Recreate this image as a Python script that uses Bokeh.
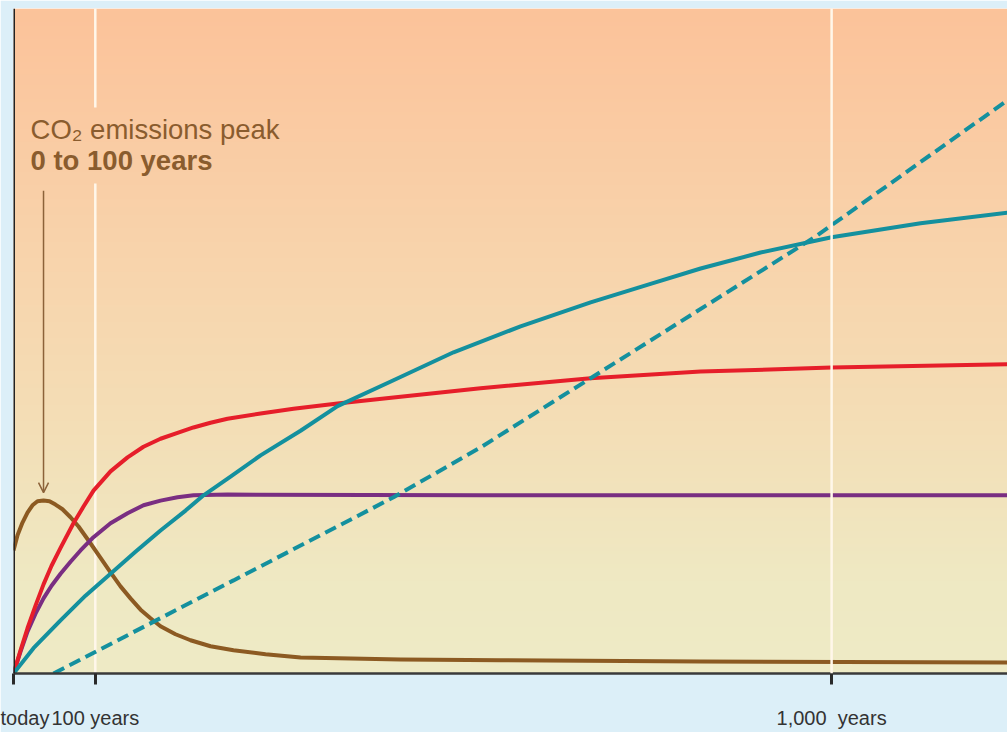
import numpy as np
from bokeh.plotting import figure
from bokeh.models import Range1d, FixedTicker, Span, Label, Arrow, OpenHead
from bokeh.embed import file_html
from bokeh.resources import INLINE

# ---- data (years after today, relative magnitude 0-100) ----
emis_x = [0, 4.9, 11.0, 17.1, 23.2, 29.3, 36.7, 44.0, 51.3, 59.9, 69.7, 79.5, 91.7, 106.4,
          118.6, 130.8, 143.0, 155.3, 167.5, 179.7, 198.0, 216.4, 240.8, 268.9, 308.1,
          350.9, 473.1, 595.4, 839.9, 1215]
emis_y = [18.5, 20.8, 22.7, 24.2, 25.3, 25.9, 26.0, 25.9, 25.4, 24.7, 23.5, 22.1, 20.0, 17.4,
          15.2, 13.1, 11.3, 9.6, 8.3, 7.1, 5.9, 5.0, 4.1, 3.5, 2.9,
          2.4, 2.1, 2.0, 1.8, 1.65]

red_x = [0, 8.6, 17.1, 26.9, 36.7, 46.5, 57.5, 73.3, 85.6, 97.8, 118.6, 139.4, 158.9, 179.7,
         200.5, 220.0, 240.8, 261.6, 302.0, 342.3, 396.1, 464.5, 570.9, 705.4, 839.9, 1000, 1215]
red_y = [0, 3.5, 6.8, 10.2, 13.4, 16.2, 18.9, 22.6, 25.1, 27.5, 30.4, 32.5, 34.1, 35.3,
         36.2, 37.0, 37.7, 38.3, 39.1, 39.8, 40.6, 41.5, 42.9, 44.4, 45.4, 46.0, 46.5]

purple_x = [0, 8.6, 17.1, 26.9, 36.7, 46.5, 57.5, 69.7, 81.9, 97.8, 118.6, 139.4, 158.9,
            179.7, 200.5, 220.0, 261.6, 570.9, 1215]
purple_y = [0, 3.3, 6.3, 9.0, 11.3, 13.2, 15.0, 16.8, 18.5, 20.5, 22.6, 24.1, 25.3,
            26.0, 26.5, 26.8, 26.9, 26.8, 26.8]

teal_x = [0, 24.4, 57.5, 88.0, 118.6, 149.1, 179.7, 210.3, 232.3, 265.3, 302.0, 350.9, 396.1,
          464.5, 537.9, 619.8, 705.4, 778.7, 839.9, 913.2, 1000, 1108.8, 1215]
teal_y = [0, 3.8, 8.0, 11.7, 15.0, 18.3, 21.5, 24.5, 26.8, 29.6, 32.8, 36.5, 40.2,
          44.1, 48.3, 52.2, 55.8, 58.6, 60.9, 63.3, 65.6, 67.7, 69.3]

dash_x = [48.9, 268.9, 464.5, 570.9, 705.4, 980.4, 1215]
dash_y = [0, 14.0, 26.5, 34.0, 44.4, 65.7, 86.2]

tick_pos = [0, 100, 1000]
tick_labels = ["today", "100 years", "1,000\u00a0 years"]

X0, X1 = 0, 1215
Y0, Y1 = 0, 100

p = figure(width=1007, height=732, output_backend="svg", toolbar_location=None,
           x_range=Range1d(X0, X1), y_range=Range1d(Y0, Y1),
           min_border_left=13, min_border_right=0, min_border_top=8,
           min_border_bottom=59)
p.border_fill_color = "#DCEFF8"
p.outline_line_color = None
p.grid.visible = False
p.yaxis.visible = False

# ---- gradient background ----
stops_f = [0.0, 0.14, 0.38, 0.606, 0.80, 1.0]
stops_c = [(238, 235, 198), (239, 233, 195), (244, 222, 182), (248, 213, 173),
           (250, 204, 164), (252, 195, 154)]
n = 200
fr = np.linspace(0, 1, n)
img = np.empty((n, 1), dtype=np.uint32)
view = img.view(dtype=np.uint8).reshape((n, 1, 4))
for k in range(3):
    view[:, 0, k] = np.interp(fr, stops_f, [c[k] for c in stops_c]).astype(np.uint8)
view[:, 0, 3] = 255
p.image_rgba(image=[img], x=X0, y=Y0, dw=X1 - X0, dh=Y1 - Y0)

# ---- white guide lines ----
p.segment(x0=[100, 100], y0=[0, 85.1], x1=[100, 100], y1=[73.7, 100],
          line_color="#FFF7EA", line_width=2.5)
p.add_layout(Span(location=1000, dimension="height", line_color="#FFF7EA", line_width=2.5))

# ---- curves ----
lw = 4
p.line(emis_x, emis_y, line_color="#8C5A22", line_width=lw, line_join="round")
p.line(purple_x, purple_y, line_color="#7A2E82", line_width=lw, line_join="round")
p.line(red_x, red_y, line_color="#E61E2A", line_width=lw, line_join="round")
p.line(teal_x, teal_y, line_color="#14909E", line_width=lw, line_join="round")
p.line(dash_x, dash_y, line_color="#14909E", line_width=lw, line_dash="12 6")

# ---- left axis line ----
p.add_layout(Span(location=0, dimension="height", line_color="#222222", line_width=3))

# ---- x axis ----
ax = p.xaxis[0]
ax.ticker = FixedTicker(ticks=tick_pos)
ax.major_label_overrides = {t: l for t, l in zip(tick_pos, tick_labels)}
ax.minor_tick_line_color = None
ax.major_tick_in = 0
ax.major_tick_out = 11
ax.major_tick_line_width = 3
ax.major_tick_line_color = "#2a2a2a"
ax.axis_line_color = "#3a3a3a"
ax.axis_line_width = 2.5
ax.major_label_text_font = "Liberation Sans"
ax.major_label_text_font_size = "20px"
ax.major_label_text_color = "#333333"
ax.major_label_standoff = 22

# ---- annotation ----
txt_col = "#8A5C2E"
p.add_layout(Label(x=20.8, y=81.75, text="CO\u2082 emissions peak", text_font="Liberation Sans",
                   text_font_size="27.5px", text_color=txt_col, text_baseline="alphabetic"))
p.add_layout(Label(x=20.8, y=77.2, text="0 to 100 years", text_font="Liberation Sans",
                   text_font_size="27.5px", text_font_style="bold", text_color=txt_col,
                   text_baseline="alphabetic"))
p.add_layout(Arrow(x_start=36.7, y_start=72.6, x_end=36.7, y_end=27.2,
                   line_color="#8C6239", line_width=1.5,
                   end=OpenHead(size=10, line_color="#8C6239", line_width=1.5)))

open("out.html", "w").write(file_html(p, INLINE))
